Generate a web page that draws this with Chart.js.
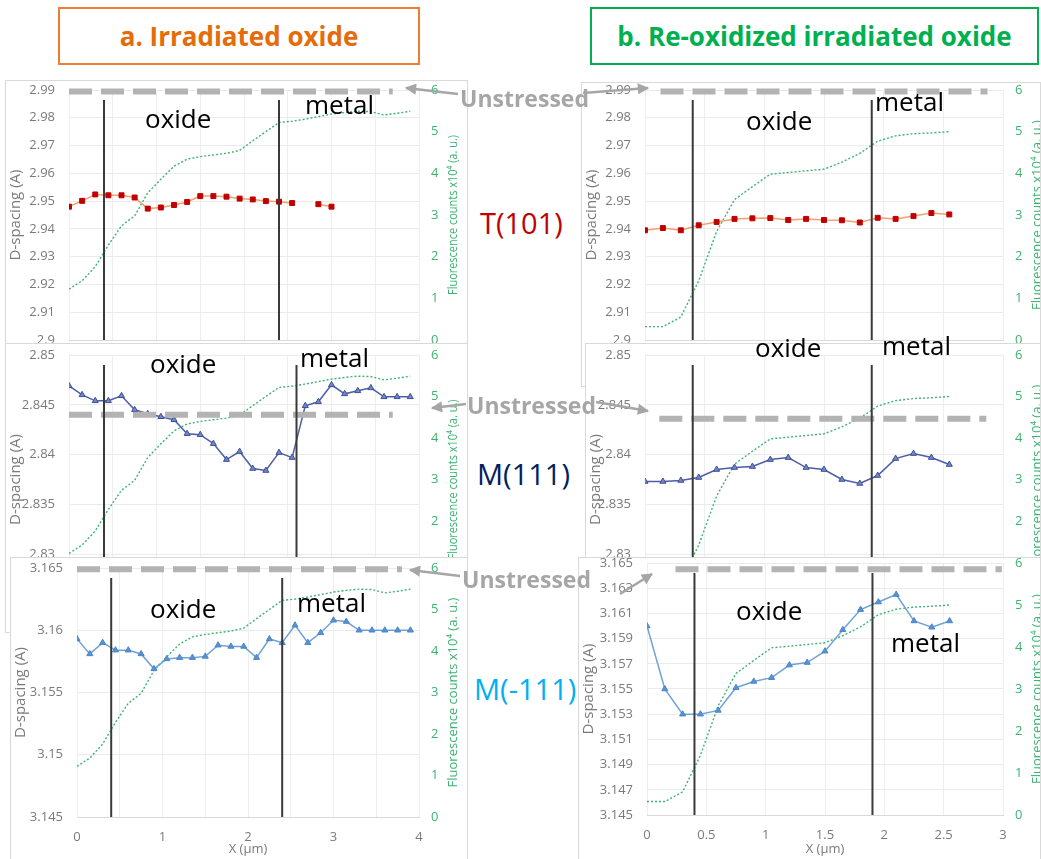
<!DOCTYPE html>
<html lang="en">
<head>
<meta charset="UTF-8">
<title>D-spacing profiles – irradiated vs re-oxidized oxide</title>
<script src="https://cdn.jsdelivr.net/npm/chart.js"></script>
<style>
  html, body { margin: 0; padding: 0; background: #fff; overflow: hidden; }
  #stage { position: relative; width: 1041px; height: 859px; overflow: hidden; font-family: 'Open Sans', sans-serif; }
  .panel { position: absolute; background: #fff; outline: 1px solid #d9d9d9; outline-offset: -1px; z-index: 1; }
  .box { position: absolute; top: 7px; height: 58px; box-sizing: border-box; border: 2px solid; display: flex; align-items: center; justify-content: center; font-weight: 700; font-size: 26px; }
  .box.a { left: 58px; width: 362px; border-color: #ee7d31; color: #e46c0a; }
  .box.b { left: 590px; width: 449px; border-color: #00b050; color: #00b050; }
  .lbl { position: absolute; white-space: nowrap; line-height: 1; z-index: 5; }
  #arrows { position: absolute; left: 0; top: 0; z-index: 6; }
</style>
</head>
<body>
<div id="stage">
  <div class="box a">a. Irradiated oxide</div>
  <div class="box b">b. Re-oxidized irradiated oxide</div>
  <svg id="arrows" width="1041" height="859">
    <defs>
      <marker id="ah" viewBox="0 0 10 10" refX="9" refY="5" markerWidth="5.5" markerHeight="4.5" orient="auto" markerUnits="strokeWidth">
        <path d="M0,0 L10,5 L0,10 z" fill="#a6a6a6"/>
      </marker>
    </defs>
    <g stroke="#a6a6a6" stroke-width="2.5" fill="none" marker-end="url(#ah)">
      <line x1="458" y1="94" x2="406" y2="88"/>
      <line x1="583" y1="93" x2="648" y2="88"/>
      <line x1="466" y1="404" x2="432" y2="408"/>
      <line x1="596" y1="402" x2="648" y2="411"/>
      <line x1="460" y1="576" x2="410" y2="570"/>
      <line x1="620" y1="594" x2="652" y2="574"/>
    </g>
  </svg>
</div>

<script>
// ---- data ----
// x positions (µm)
const xA = [0, 0.15, 0.3, 0.45, 0.6, 0.75, 0.9, 1.05, 1.2, 1.35, 1.5, 1.65, 1.8, 1.95, 2.1, 2.25, 2.4, 2.55, 2.7, 2.85, 3.0, 3.15, 3.3, 3.45, 3.6, 3.75, 3.9];
const xB = [0, 0.15, 0.3, 0.45, 0.6, 0.75, 0.9, 1.05, 1.2, 1.35, 1.5, 1.65, 1.8, 1.95, 2.1, 2.25, 2.4, 2.55];

// fluorescence counts x10^4 (a. u.)
const fluoA = [1.22, 1.42, 1.76, 2.28, 2.74, 2.98, 3.53, 3.86, 4.17, 4.34, 4.40, 4.44, 4.48, 4.55, 4.78, 5.00, 5.22, 5.25, 5.30, 5.36, 5.42, 5.46, 5.49, 5.48, 5.40, 5.44, 5.49];
const fluoB = [0.32, 0.32, 0.55, 1.42, 2.60, 3.37, 3.68, 3.98, 4.02, 4.06, 4.10, 4.27, 4.48, 4.77, 4.90, 4.95, 4.97, 5.00];

// d-spacing (A), a = irradiated oxide
const t101A = [2.9480, 2.9501, 2.9524, 2.9521, 2.9521, 2.9513, 2.9473, 2.9477, 2.9486, 2.9497, 2.9518, 2.9518, 2.9516, 2.9509, 2.9506, 2.9500, 2.9498, 2.9493, null, 2.9489, 2.9480];
const m111A = [2.8469, 2.8460, 2.8454, 2.8454, 2.8459, 2.8445, 2.8441, 2.8438, 2.8435, 2.8421, 2.8420, 2.8411, 2.8395, 2.8403, 2.8386, 2.8384, 2.8402, 2.8397, 2.8449, 2.8453, 2.8470, 2.8461, 2.8464, 2.8467, 2.8458, 2.8458, 2.8458];
const mNeg111A = [3.1593, 3.1581, 3.1590, 3.1584, 3.1584, 3.1581, 3.1569, 3.1577, 3.1578, 3.1578, 3.1579, 3.1588, 3.1587, 3.1587, 3.1578, 3.1593, 3.1590, 3.1604, 3.1590, 3.1598, 3.1608, 3.1607, 3.1600, 3.1600, 3.1600, 3.1600, 3.1600];

// d-spacing (A), b = re-oxidized irradiated oxide
const t101B = [2.9395, 2.9403, 2.9395, 2.9413, 2.9425, 2.9436, 2.9438, 2.9439, 2.9432, 2.9436, 2.9432, 2.9431, 2.9423, 2.9440, 2.9436, 2.9446, 2.9457, 2.9452];
const m111B = [2.8373, 2.8373, 2.8374, 2.8377, 2.8385, 2.8387, 2.8388, 2.8395, 2.8397, 2.8387, 2.8385, 2.8375, 2.8371, 2.8379, 2.8396, 2.8401, 2.8397, 2.8390];
const mNeg111B = [3.1600, 3.1550, 3.1530, 3.1530, 3.1533, 3.1551, 3.1556, 3.1559, 3.1569, 3.1571, 3.1580, 3.1597, 3.1613, 3.1619, 3.1625, 3.1604, 3.1599, 3.1604];

// oxide / metal boundaries (µm)
const oxideMetalA = [0.4, 2.4];
const oxideMetalA111 = [0.4, 2.6];
const oxideMetalB = [0.4, 1.9];

// unstressed d-spacing: T(101), M(111), M(-111)
const unstressedA = [2.9895, 2.8440, 3.1649];
const unstressedB = [2.9895, 2.8436, 3.1645];

// ---- styling ----
Chart.defaults.font.family = "'Open Sans', sans-serif";
const GREY = '#7a7a7a';
const GREEN = '#3cb371';
const seriesStyle = {
  T: { borderColor: '#f2a070', pointStyle: 'rect', pointRadius: 3.5, pointBackgroundColor: '#c00000', pointBorderColor: '#c00000' },
  M: { borderColor: '#4b5ea6', pointStyle: 'triangle', pointRadius: 3.5, pointBackgroundColor: '#7586c6', pointBorderColor: '#3d4f96' },
  N: { borderColor: '#6fa3d8', pointStyle: 'triangle', pointRadius: 3.5, pointBackgroundColor: '#5a92cf', pointBorderColor: '#4a86c8' }
};

// right axis title reads bottom-to-top, drawn here
const fluoTitle = {
  id: 'fluoTitle',
  afterDraw(chart, args, opts) {
    const a = chart.chartArea, ctx = chart.ctx;
    ctx.save();
    ctx.translate(a.right + 34, (a.top + a.bottom) / 2);
    ctx.rotate(-Math.PI / 2);
    ctx.font = "13px 'Open Sans'";
    ctx.fillStyle = GREEN;
    ctx.textAlign = 'center';
    ctx.textBaseline = 'middle';
    ctx.fillText('Fluorescence counts x10\u2074 (a. u.)', 0, 0, opts.width);
    ctx.restore();
  }
};

const panels = [
  { box: [5, 80, 463, 305], plot: [69, 90, 419, 340], xr: [0, 4, 0.5], yr: [2.9, 2.99, 0.01], xs: xA, d: t101A, kind: 'T', bounds: oxideMetalA, ref: unstressedA[0], refSpan: [0, 3.7], fluo: fluoA, fluoW: 160 },
  { box: [581, 82, 460, 305], plot: [645, 90, 1003, 340], xr: [0, 3, 0.5], yr: [2.9, 2.99, 0.01], xs: xB, d: t101B, kind: 'T', bounds: oxideMetalB, ref: unstressedB[0], refSpan: [0.13, 2.87], fluo: fluoB, fluoW: 194 },
  { box: [5, 343, 463, 290], plot: [69, 355, 419, 604], xr: [0, 4, 0.5], yr: [2.825, 2.85, 0.005], xs: xA, d: m111A, kind: 'M', bounds: oxideMetalA111, ref: unstressedA[1], refSpan: [0, 3.7], fluo: fluoA, fluoW: 160 },
  { box: [585, 343, 456, 305], plot: [645, 355, 1003, 604], xr: [0, 3, 0.5], yr: [2.825, 2.85, 0.005], xs: xB, d: m111B, kind: 'M', bounds: oxideMetalB, ref: unstressedB[1], refSpan: [0.12, 2.86], fluo: fluoB, fluoW: 194 },
  { box: [10, 557, 458, 304], plot: [77, 568, 419, 817], xr: [0, 4, 0.5], yr: [3.145, 3.165, 0.005], xs: xA, d: mNeg111A, kind: 'N', bounds: oxideMetalA, ref: unstressedA[2], refSpan: [0, 3.8], fluo: fluoA, fluoW: 194 },
  { box: [578, 557, 463, 304], plot: [647, 563, 1003, 815], xr: [0, 3, 0.5], yr: [3.145, 3.165, 0.002], xs: xB, d: mNeg111B, kind: 'N', bounds: oxideMetalB, ref: unstressedB[2], refSpan: [0.24, 2.99], fluo: fluoB, fluoW: 197 }
];

const stage = document.getElementById('stage');

function makeChart(p) {
  const [bx, by, bw, bh] = p.box;
  const [pl, pt, pr, pb] = p.plot;
  const cv = document.createElement('canvas');
  cv.className = 'panel';
  cv.width = bw; cv.height = bh;
  cv.style.left = bx + 'px'; cv.style.top = by + 'px';
  cv.style.width = bw + 'px'; cv.style.height = bh + 'px';
  stage.appendChild(cv);

  const [yLo, yHi, yStep] = p.yr;
  const vTop = yHi - (yHi - yLo) * 0.04;
  const datasets = [];
  // first in list = drawn on top
  p.bounds.forEach(b => datasets.push({
    data: [{ x: b, y: vTop }, { x: b, y: yLo }],
    borderColor: '#3a3a3a', borderWidth: 2, pointRadius: 0, yAxisID: 'y', clip: false
  }));
  datasets.push({
    data: [{ x: p.refSpan[0], y: p.ref }, { x: p.refSpan[1], y: p.ref }],
    borderColor: '#b3b3b3', borderWidth: 6, borderDash: [23, 9], pointRadius: 0, yAxisID: 'y', clip: false
  });
  datasets.push(Object.assign({
    data: p.d.map((v, i) => ({ x: p.xs[i], y: v })),
    borderWidth: 1.5, pointBorderWidth: 1, tension: 0, yAxisID: 'y'
  }, seriesStyle[p.kind]));
  datasets.push({
    data: p.fluo.map((v, i) => ({ x: p.xs[i], y: v })),
    borderColor: GREEN, borderWidth: 1.4, borderDash: [2, 2], pointRadius: 0, tension: 0, yAxisID: 'y1'
  });

  const intOnly = p.xr[1] === 4;
  new Chart(cv, {
    type: 'line',
    data: { datasets },
    plugins: [fluoTitle],
    options: {
      responsive: false,
      animation: false,
      events: [],
      layout: { padding: { top: pt - by, left: 0, right: 0, bottom: 0 } },
      plugins: { legend: { display: false }, tooltip: { enabled: false }, fluoTitle: { width: p.fluoW } },
      scales: {
        x: {
          type: 'linear', min: p.xr[0], max: p.xr[1],
          afterFit: s => { s.height = by + bh - pb; s.paddingLeft = 0; s.paddingRight = 0; },
          ticks: {
            stepSize: p.xr[2], padding: 12, color: GREY, font: { size: 13 }, autoSkip: false, maxRotation: 0,
            callback: v => intOnly ? (Number.isInteger(v) ? String(v) : '') : String(+v.toFixed(2))
          },
          grid: { color: '#eeeeee', drawTicks: false },
          border: { color: '#d9d9d9' },
          title: { display: true, text: 'X (\u00b5m)', color: GREY, font: { size: 13 }, padding: { top: 0, bottom: 4 } }
        },
        y: {
          position: 'left', min: yLo, max: yHi,
          afterFit: s => { s.width = pl - bx; s.paddingTop = 0; s.paddingBottom = 0; },
          ticks: { stepSize: yStep, padding: 14, color: GREY, font: { size: 13 }, callback: v => String(+v.toFixed(4)) },
          grid: { color: '#ebebeb', drawTicks: false },
          border: { display: false },
          title: { display: true, text: 'D-spacing (A)', color: GREY, font: { size: 15 }, padding: { top: 2, bottom: 2 } }
        },
        y1: {
          position: 'right', min: 0, max: 6,
          afterFit: s => { s.width = bx + bw - pr; s.paddingTop = 0; s.paddingBottom = 0; },
          ticks: { stepSize: 1, padding: 12, color: GREEN, font: { size: 13 } },
          grid: { display: false, drawTicks: false },
          border: { display: false }
        }
      }
    }
  });
}

panels.forEach(makeChart);

// ---- text annotations (left, baseline, size, colour, weight) ----
function addLabel(text, left, baseline, size, color, weight) {
  const el = document.createElement('div');
  el.className = 'lbl';
  el.textContent = text;
  el.style.left = left + 'px';
  el.style.top = (baseline - 0.888 * size) + 'px';
  el.style.fontSize = size + 'px';
  el.style.color = color;
  el.style.fontWeight = weight || 400;
  stage.appendChild(el);
}

[
  ['oxide', 145, 128], ['metal', 305, 114],
  ['oxide', 150, 373], ['metal', 300, 367],
  ['oxide', 150, 618], ['metal', 297, 612],
  ['oxide', 746, 130], ['metal', 875, 111],
  ['oxide', 755, 357], ['metal', 882, 355],
  ['oxide', 736, 620], ['metal', 891, 652]
].forEach(([t, x, y]) => addLabel(t, x, y, 26, '#000'));

addLabel('T(101)', 480, 234, 29, '#c00000');
addLabel('M(111)', 477, 485, 29, '#002060');
addLabel('M(-111)', 474, 700, 29, '#00b0f0');

addLabel('Unstressed', 460, 107, 23, '#a6a6a6', 700);
addLabel('Unstressed', 467, 414, 23, '#a6a6a6', 700);
addLabel('Unstressed', 462, 588, 23, '#a6a6a6', 700);
</script>
</body>
</html>
